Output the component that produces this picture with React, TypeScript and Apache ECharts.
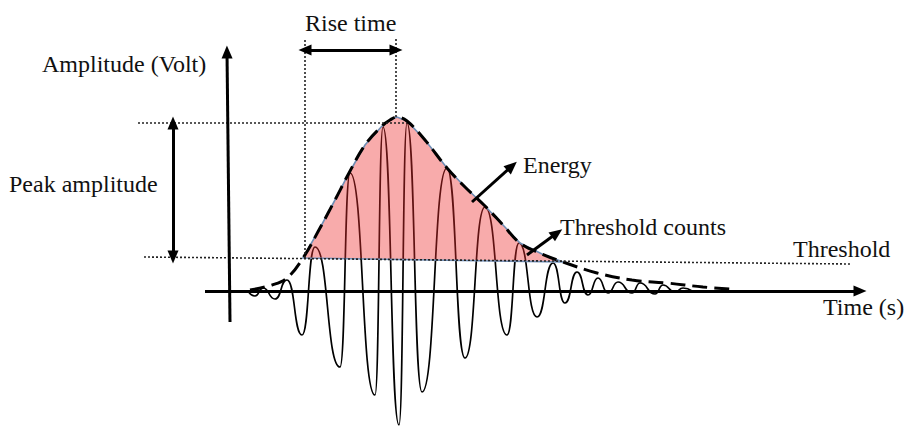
import React, { useEffect, useRef } from "react";
import * as echarts from "echarts";

// Waveform extrema (time units, amplitude units)
const WAVE_T = [1.8, 2.5, 3.3, 4.5, 5.7, 7.2, 8.5, 11.0, 12.0, 14.5, 15.3, 16.9, 17.7, 19.2, 21.7, 23.5, 25.5, 27.7, 28.9, 30.7, 32.3, 33.5, 34.7, 35.8, 36.8, 37.8, 38.8, 40.2, 41.0, 42.5, 43.3, 44.5, 45.3, 46.2];
const WAVE_A = [0, -0.5, 0.3, -0.8, 1.1, -4.4, 4.4, -7.6, 11.8, -10.4, 16.4, -13.4, 16.8, -10.1, 12.3, -6.7, 8.4, -4.4, 4.8, -2.6, 2.8, -1.2, 1.9, -0.4, 1.3, -0.2, 0.9, -0.2, 0.8, -0.3, 0.6, -0.1, 0.3, 0];

// Envelope (dashed)
const ENV_T = [2.0, 4.2, 5.7, 7.3, 9.0, 10.5, 11.9, 13.5, 15.2, 16.0, 16.7, 17.7, 19.5, 21.7, 23.5, 25.5, 27.3, 29.0, 31.2, 33.3, 36.7, 40.2, 43.7, 47.3, 50.0];
const ENV_A = [0.1, 0.6, 1.3, 3.3, 6.3, 9.1, 11.8, 14.6, 16.5, 17.1, 17.4, 17.0, 15.1, 12.3, 10.4, 8.5, 6.6, 4.8, 3.7, 2.9, 1.8, 1.1, 0.8, 0.4, 0.2];
// indices of the envelope that bound the energy area (above threshold)
const ENERGY_FROM = 3;
const ENERGY_TO = 19;

// Threshold line
const THRESH_T = [-8.6, 62.0];
const THRESH_A = [3.4, 2.7];

// Peak amplitude level and rise-time markers
const PEAK_LEVEL_T = [-9.2, 17.7];
const PEAK_LEVEL_A = 16.8;
const RISE_START_T = 7.5;
const RISE_END_T = 16.6;
const RISE_TOP_A = 25.3;
const RISE_ARROW_A = 24.1;
const PEAK_ARROW_T = -5.7;
const THRESH_LEVEL_A = 3.4;

// Axes (in data units)
const X_AXIS = [[-2.5, 0], [63, 0]];
const Y_AXIS = [[0, -3.1], [-0.3, 23.9]];
const ENERGY_ARROW = [[24.2, 8.9], [28.2, 12.5]];
const COUNTS_ARROW = [[29.7, 3.6], [32.7, 5.8]];

const LABELS = [
  { text: "Rise time", x: 305, y: 23 },
  { text: "Amplitude (Volt)", x: 42, y: 64 },
  { text: "Peak amplitude", x: 9, y: 184 },
  { text: "Energy", x: 523, y: 165 },
  { text: "Threshold counts", x: 560, y: 227 },
  { text: "Threshold", x: 793, y: 249 },
  { text: "Time (s)", x: 823, y: 307 },
];

const SERIF = "'Liberation Serif', 'Times New Roman', 'DejaVu Serif', serif";

export default function App() {
  const ref = useRef<HTMLDivElement>(null);
  useEffect(() => {
    if (!ref.current) return;
    const chart = echarts.init(ref.current, null, { renderer: "svg" });
    const wave = WAVE_T.map((t, i) => [t, WAVE_A[i]]);
    const env = ENV_T.map((t, i) => [t, ENV_A[i]]);
    const energyPts = env.slice(ENERGY_FROM, ENERGY_TO + 1);

    const dotted = (pts: number[][], w = 1.6) => ({
      type: "line",
      data: pts,
      symbol: "none",
      silent: true,
      lineStyle: { color: "#222", width: w, type: [2, 2] },
    });

    const arrow = (a: number[], b: number[], both: boolean, w = 3) => [
      { coord: a, symbol: both ? "triangle" : "none", symbolSize: [11, 13] },
      { coord: b, symbol: "triangle", symbolSize: [11, 13], lineStyle: { width: w } },
    ];

    chart.setOption({
      animation: false,
      textStyle: { fontFamily: SERIF },
      grid: { left: 0, right: 0, top: 0, bottom: 0 },
      xAxis: { type: "value", min: -23, max: 67.7, show: false },
      yAxis: { type: "value", min: -13.6, max: 29.1, show: false },
      series: [
        {
          type: "line",
          data: wave,
          symbol: "none",
          smooth: 0.55,
          smoothMonotone: "x",
          silent: true,
          lineStyle: { color: "#000", width: 1.7 },
          z: 2,
        },
        {
          type: "custom",
          coordinateSystem: "cartesian2d",
          data: [[0, 0]],
          silent: true,
          z: 3,
          renderItem: (_p: any, api: any) => ({
            type: "polygon",
            shape: { points: energyPts.map((p) => api.coord(p)) },
            style: {
              fill: "rgba(238,44,44,0.4)",
              stroke: "#6e8db4",
              lineWidth: 1.6,
            },
          }),
        },
        {
          type: "line",
          data: env,
          symbol: "none",
          smooth: 0.4,
          silent: true,
          z: 4,
          lineStyle: { color: "#000", width: 3, type: [15, 7] },
        },
        { ...dotted(THRESH_T.map((t, i) => [t, THRESH_A[i]])), z: 4 },
        { ...dotted(PEAK_LEVEL_T.map((t) => [t, PEAK_LEVEL_A])), z: 4 },
        { ...dotted([[RISE_START_T, THRESH_LEVEL_A - 0.1], [RISE_START_T, RISE_TOP_A]]), z: 4 },
        { ...dotted([[RISE_END_T, 17.4], [RISE_END_T, RISE_TOP_A]]), z: 4 },
        {
          type: "line",
          data: [],
          silent: true,
          z: 5,
          markLine: {
            silent: true,
            animation: false,
            label: { show: false },
            lineStyle: { color: "#000", width: 3, type: "solid" },
            data: [
              arrow(X_AXIS[0], X_AXIS[1], false),
              arrow(Y_AXIS[0], Y_AXIS[1], false),
              arrow([RISE_START_T, RISE_ARROW_A], [RISE_END_T, RISE_ARROW_A], true),
              arrow([PEAK_ARROW_T, PEAK_LEVEL_A], [PEAK_ARROW_T, THRESH_LEVEL_A], true),
              arrow(ENERGY_ARROW[0], ENERGY_ARROW[1], false),
              arrow(COUNTS_ARROW[0], COUNTS_ARROW[1], false),
            ],
          },
        },
      ],
      graphic: LABELS.map((l) => ({
        type: "text",
        x: l.x,
        y: l.y,
        silent: true,
        style: {
          text: l.text,
          font: `24px ${SERIF}`,
          fontFamily: SERIF,
          fontSize: 24,
          fill: "#111",
          align: "left",
          verticalAlign: "middle",
        },
      })),
    });
    return () => chart.dispose();
  }, []);
  return (
    <div
      ref={ref}
      style={{ position: "absolute", left: 0, top: 0, width: 907, height: 427, background: "#fff" }}
    />
  );
}
